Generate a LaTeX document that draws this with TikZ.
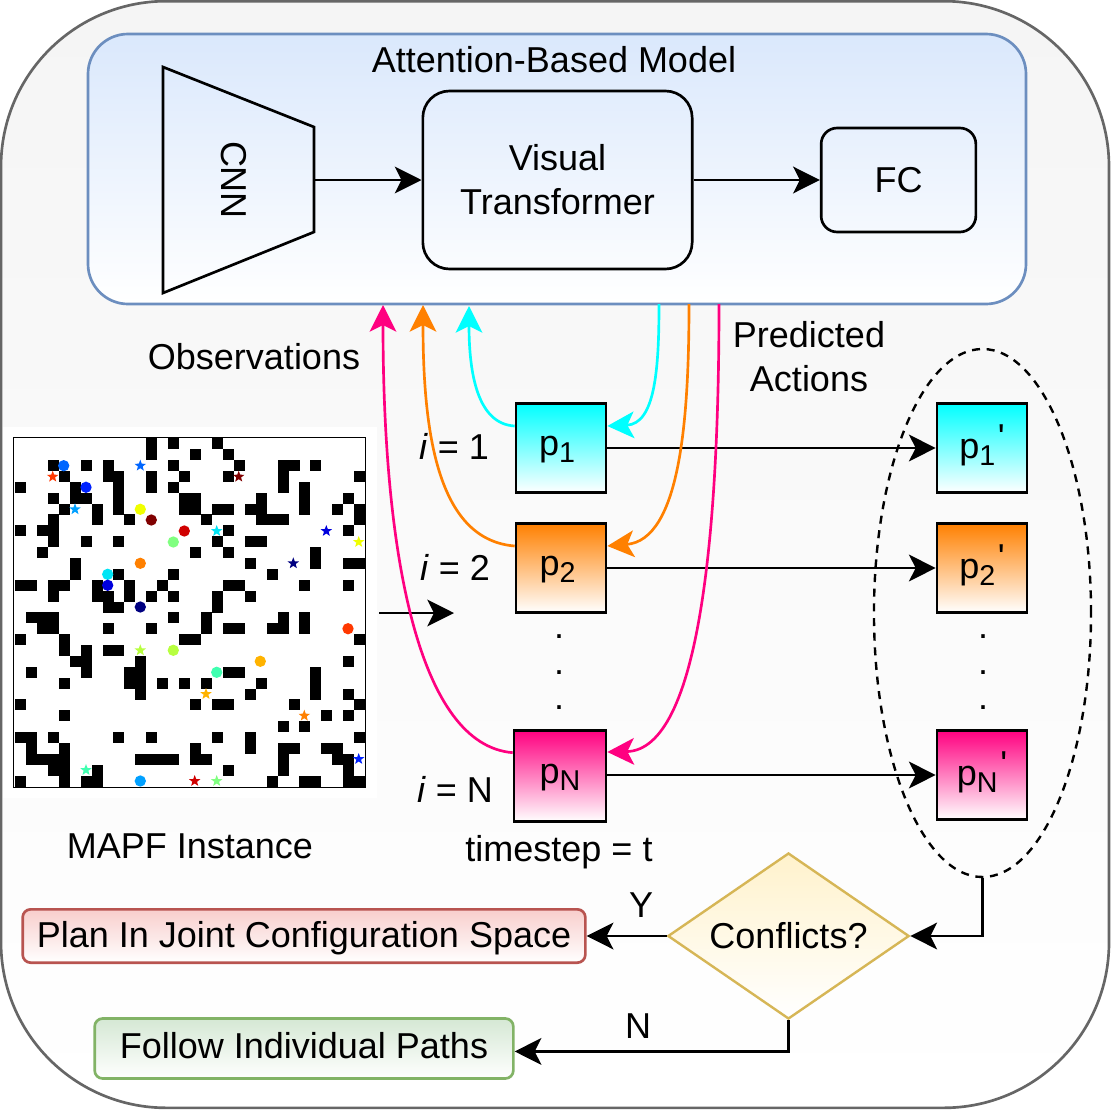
\documentclass[tikz,border=0pt]{standalone}
\usepackage{fontspec}
\setmainfont{Liberation Sans}
\newfontfamily\primefont{Liberation Sans}
\usetikzlibrary{arrows.meta,shapes.geometric}
\definecolor{pcyan}{HTML}{00FFFF}\definecolor{porange}{HTML}{FF8000}\definecolor{ppink}{HTML}{FF0080}
\definecolor{bgline}{HTML}{666666}\definecolor{bgfill}{HTML}{F5F5F5}
\definecolor{modline}{HTML}{6C8EBF}\definecolor{modfill}{HTML}{DAE8FC}
\definecolor{planline}{HTML}{B85450}\definecolor{planfill}{HTML}{F8CECC}
\definecolor{folline}{HTML}{82B366}\definecolor{folfill}{HTML}{D5E8D4}
\definecolor{confline}{HTML}{D6B656}\definecolor{conffill}{HTML}{FFF2CC}
\definecolor{jA}{HTML}{0066FF}\definecolor{jB}{HTML}{0022FF}\definecolor{jC}{HTML}{F0FF00}
\definecolor{jD}{HTML}{800000}\definecolor{jE}{HTML}{D00000}\definecolor{jF}{HTML}{80FF80}
\definecolor{jG}{HTML}{FF8000}\definecolor{jH}{HTML}{00E5F5}\definecolor{jI}{HTML}{0000DD}
\definecolor{jJ}{HTML}{000080}\definecolor{jK}{HTML}{FF3800}\definecolor{jL}{HTML}{B8FF40}
\definecolor{jM}{HTML}{FFB300}\definecolor{jN}{HTML}{40FFB0}\definecolor{jO}{HTML}{00A0FF}
\newcommand{\pname}[1]{p\raisebox{-.2em}{\fontsize{21.5}{22}\selectfont #1}}
\newcommand{\qname}[1]{\pname{#1}\kern2pt\smash{\raisebox{6.4pt}{\primefont'}}}
\tikzset{
txt/.style={font=\fontsize{27}{33}\selectfont,align=center,inner sep=0pt},
arr/.style={-{Stealth[length=20pt,width=20pt,inset=5pt]},line width=2pt},
back/.style={line width=2pt,-{Stealth[length=20pt,width=20pt,inset=5pt]}},
pbox/.style={txt,draw,line width=2pt,minimum width=67.5pt,minimum height=67pt,bottom color=white,text height=16pt,text depth=5.5pt},
qbox/.style={pbox,text height=18pt,text depth=3pt},
blk/.style={txt,draw,line width=2pt,fill=none},
flow/.style={txt,draw,line width=2pt,rounded corners=6pt,bottom color=white},
agentdot/.style={circle,inner sep=0pt,minimum size=8.5pt},
goalstar/.style={star,star points=5,star point ratio=2.4,inner sep=0pt,minimum size=9pt}
}
\begin{document}
\begin{tikzpicture}[x=0.75pt,y=-0.75pt]
\useasboundingbox(0,0)rectangle(1113,1110);
\node[draw=bgline,line width=2pt,rounded corners=124pt,minimum width=831pt,minimum height=830pt,top color=bgfill,bottom color=white](bg)at(555,554.5){};
\fill[white](2.5,427)rectangle(377,798);
\node[draw=modline,line width=2pt,rounded corners=30pt,minimum width=703.5pt,minimum height=202.5pt,top color=modfill,bottom color=white](model)at(557,169){};
\node[txt](modellab)at(554,60){Attention-Based Model};
\draw[line width=2pt](163,67)--(314,127)--(314,232)--(163,293)--cycle;
\coordinate(cnnout)at(314,180);
\node[txt,rotate=-90](cnnlab)at(233.5,180){CNN};
\node[blk,rounded corners=20pt,minimum width=202pt,minimum height=133.5pt](vit)at(557.5,180){Visual\\Transformer};
\node[blk,rounded corners=12pt,minimum width=116pt,minimum height=78pt](fc)at(898.5,180){FC};
\draw[arr](cnnout)--(vit);
\draw[arr](vit)--(fc);
\node[txt](obslab)at(254,357){Observations};
\node[txt](predlab)at(809,357){Predicted\\Actions};
%map
\foreach \r/\cl in {0/{12,14,18},1/{12,16,19},2/{3,6,8,14,20,24,25,27},3/{4,8,9,12,15,19,24,31},4/{0,5,9,12,14,24,26},
5/{3,5,6,9,15,16,22,26,30},6/{4,7,9,15,16,18,19,21,22,26,29,31},7/{3,7,10,17,22,23,24,31},8/{0,2,3,19,30},9/{3,6,9,18,21,22},
10/{2,16,19,27},11/{5,21,27,30,31},12/{5,9,14,23},13/{0,1,3,4,7,10,13,19,20,26,30},14/{3,7,8,10,12,14,18,21},15/{8,9,18},
16/{1,2,3,14,17,24,26},17/{2,3,8,12,17,19,20,23,24,26},18/{0,4,15,16,31},19/{4,6,8,9},20/{5,6,11,30},21/{1,6,10,11,19,20,27},
22/{4,10,11,13,15,17,22,27},23/{11,21,27,30},24/{0,16,18,19,25,31},25/{4,28,30},26/{24,26},27/{0,1,3,9,12,18,21,31},
28/{1,4,16,21,24,25,28,29},29/{1,2,3,4,11,12,13,14,16,17,24,29,30},30/{3,4,7,19,24,30},31/{0,4,6,7,23,26,27,30,31}}
\foreach \c in \cl \fill({15+\c*10.94},{438.3+\r*10.88})rectangle++(11,11);
\node[draw,line width=0.9pt,minimum width=264pt,minimum height=262.5pt](mapf)at(189.8,612.8){};
\foreach \mx/\my/\mc [count=\i] in {63.7/465.7/jA,86/487.3/jB,140.3/509.3/jC,151.3/520/jD,184.3/531/jE,173.3/542/jF,140.3/563.3/jG,107.7/574.3/jH,107.7/585.3/jI,140.3/607/jJ,348/628.7/jK,173.3/650.3/jL,260.3/661.3/jM,216.7/672.3/jN,140.3/781/jO}
\node[agentdot,fill=\mc](ag\i)at(\mx,\my){};
\foreach \mx/\my/\mc [count=\i] in {52.7/476.7/jK,140.3/465.7/jA,238.7/476.7/jD,75/509.3/jO,216.7/531/jH,326.3/531/jI,358.7/542/jC,293.3/563.3/jJ,140.3/650.3/jL,206/694/jM,304.3/715.7/jG,358.7/759/jB,86/770/jN,194.7/781/jE,216.7/781/jF}
\node[goalstar,fill=\mc](gl\i)at(\mx,\my){};
\node[txt](maplab)at(190,846){MAPF Instance};
\coordinate(mapout)at(379,613);\coordinate(mapin)at(454,613);
\draw[arr](mapout)--(mapin);
%agents
\node[pbox,top color=pcyan](p1)at(561,448){\pname{1}\kern6pt};
\node[pbox,top color=porange](p2)at(561,568){\pname{2}\kern5pt};
\node[pbox,top color=ppink,minimum width=69pt,minimum height=68.5pt](pN)at(560,776){\pname{N}};
\node[qbox,top color=pcyan](q1)at(982,448){\qname{1}};
\node[qbox,top color=porange](q2)at(982,568){\qname{2}};
\node[qbox,top color=ppink](qN)at(982,775){\qname{N}};
\node[txt](i1)at(454,446){\textit{i} = 1};
\node[txt](i2)at(455,567){\textit{i} = 2};
\node[txt](iN)at(455,789){\textit{i} = N};
\node[txt](tlab)at(559,852){timestep = t};
\foreach \yy in {637,673,708}{\node[txt](dl\yy)at(559,\yy){.};\node[txt](dr\yy)at(983,\yy){.};}
\draw[arr](p1)--(q1);
\draw[arr](p2)--(q2);
\draw[arr](pN.east|-qN)--(qN);
%curves
\coordinate(ob1)at(469,306);\coordinate(ob2)at(423,305);\coordinate(ob3)at(383,305);
\coordinate(ac1)at(659,304);\coordinate(ac2)at(689,304);\coordinate(ac3)at(719,304);
\draw[back,pcyan]([yshift=16.5pt]p1.west)..controls(478,424)and(469,375)..(ob1);
\draw[back,porange]([yshift=16.5pt]p2.west)..controls(440,540)and(423,440)..(ob2);
\draw[back,ppink]([yshift=17.5pt]pN.west)..controls(420,745)and(383,560)..(ob3);
\draw[back,pcyan](ac1)..controls(659,370)and(655,424)..([yshift=16.5pt]p1.east);
\draw[back,porange](ac2)..controls(689,420)and(680,540)..([yshift=16.5pt]p2.east);
\draw[back,ppink](ac3)..controls(719,530)and(700,750)..([yshift=18pt]pN.east);
\node[draw,dash pattern=on 6pt off 5pt,line width=1.8pt,ellipse,minimum width=162.8pt,minimum height=396pt](grp)at(982.5,613){};
%decision
\node[txt,draw=confline,line width=1.8pt,diamond,aspect=1.45,minimum width=181pt,minimum height=124.5pt,top color=conffill,bottom color=white](conf)at(788.5,936){Conflicts?};
\node[flow,draw=planline,top color=planfill,minimum width=422pt,minimum height=40pt,text height=20pt,text depth=2.4pt](plan)at(304,936){Plan In Joint Configuration Space};
\node[flow,draw=folline,top color=folfill,minimum width=314pt,minimum height=45pt,text height=19.7pt,text depth=5pt](follow)at(304,1048.5){Follow Individual Paths};
\node[txt](ylab)at(641,905){Y};
\node[txt](nlab)at(638,1026){N};
\draw[arr](grp.south)|-(conf.east);
\draw[arr](conf.west)--(plan.east);
\draw[arr](conf.south)|-([yshift=-2.2pt]follow.east);
\end{tikzpicture}
\end{document}
